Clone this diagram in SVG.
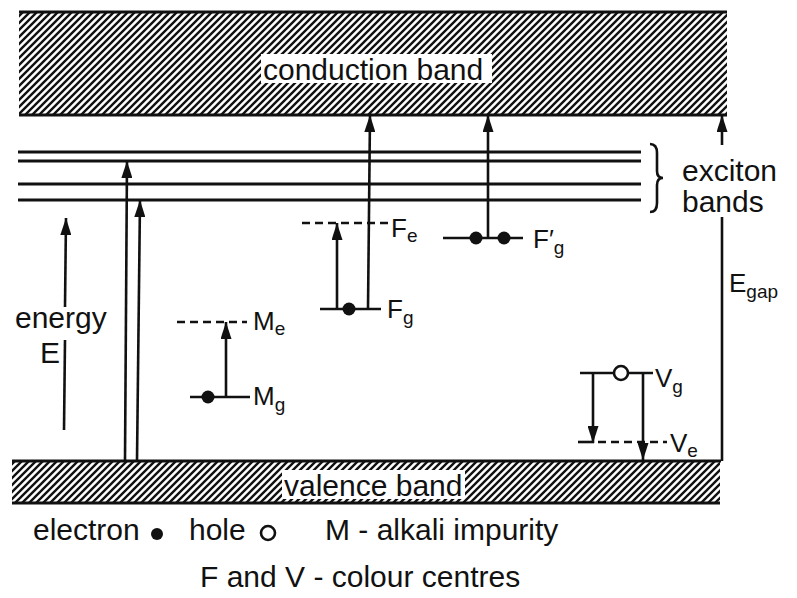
<svg xmlns="http://www.w3.org/2000/svg" width="797" height="598" viewBox="0 0 797 598">
<style>
text{font-family:"Liberation Sans",Arial,Helvetica,sans-serif;fill:#111}
.big{font-size:30px}
.lab{font-size:26px}
.sub{font-size:19px}
.ln{stroke:#111;stroke-width:3.2;fill:none}
.th{stroke:#111;stroke-width:2.6;fill:none}
.ar{stroke:#111;stroke-width:2.6;fill:none;marker-end:url(#ah)}
.dash{stroke:#111;stroke-width:2.6;fill:none;stroke-dasharray:8 5}
.dot{fill:#111}
.hole{fill:#fff;stroke:#111;stroke-width:2.6}
</style>
<defs>
<pattern id="hatch" patternUnits="userSpaceOnUse" width="7" height="7">
<path d="M-1,1 L1,-1 M0,7 L7,0 M6,8 L8,6" stroke="#111" stroke-width="2.4"/>
</pattern>
<marker id="ah" markerUnits="userSpaceOnUse" markerWidth="17" markerHeight="11" refX="17" refY="5.5" orient="auto">
<path d="M0,0 L17,5.5 L0,11 z" fill="#111"/>
</marker>
</defs>
<rect width="797" height="598" fill="#fff"/>

<g id="conduction-band">
<rect x="19" y="12" width="708" height="103" fill="url(#hatch)"/>
<line class="ln" x1="19" y1="12" x2="727" y2="12"/>
<line class="ln" x1="19" y1="115" x2="727" y2="115"/>
<rect x="261" y="54" width="231" height="29" fill="#fff"/>
<text class="big" x="263" y="80">conduction band</text>
</g>

<g id="valence-band">
<rect x="12" y="461" width="708" height="42" fill="url(#hatch)"/>
<line class="ln" x1="12" y1="461" x2="721" y2="461"/>
<line class="ln" x1="12" y1="503" x2="720" y2="503"/>
<rect x="282" y="470" width="183" height="29" fill="#fff"/>
<text class="big" x="284" y="496">valence band</text>
</g>

<g id="exciton-bands">
<line class="ln" x1="18" y1="152" x2="641" y2="152"/>
<line class="ln" x1="18" y1="161" x2="641" y2="161"/>
<line class="ln" x1="18" y1="184" x2="641" y2="184"/>
<line class="ln" x1="18" y1="200" x2="641" y2="200"/>
<path class="th" d="M650,144 Q657,144 657,153 L657,171 Q657,178 663,178 Q657,178 657,185 L657,203 Q657,212 650,212"/>
<text class="big" x="682" y="181">exciton</text>
<text class="big" x="682" y="212">bands</text>
</g>

<g id="energy-axis">
<text class="big" x="15" y="328">energy</text>
<text class="big" x="40" y="363">E</text>
</g>

<g id="M-centre">
<line class="dash" x1="177" y1="322" x2="247" y2="322"/>
<line class="th" x1="190" y1="397" x2="250" y2="397"/>
<circle class="dot" cx="208" cy="397" r="6.5"/>
<text class="lab" x="253" y="330">M<tspan class="sub" dy="5">e</tspan></text>
<text class="lab" x="253" y="405">M<tspan class="sub" dy="6">g</tspan></text>
</g>

<g id="F-centre">
<line class="dash" x1="302" y1="223" x2="389" y2="223"/>
<line class="th" x1="320" y1="309" x2="381" y2="309"/>
<circle class="dot" cx="349" cy="309" r="6.5"/>
<text class="lab" x="391" y="237">F<tspan class="sub" dy="5">e</tspan></text>
<text class="lab" x="387" y="318">F<tspan class="sub" dy="6">g</tspan></text>
</g>

<g id="F-prime-centre">
<line class="th" x1="443" y1="238" x2="523" y2="238"/>
<circle class="dot" cx="476" cy="238" r="6.5"/>
<circle class="dot" cx="504" cy="238" r="6.5"/>
<text class="lab" x="533" y="248">F′<tspan class="sub" dy="6">g</tspan></text>
</g>

<g id="V-centre">
<line class="th" x1="580" y1="373" x2="653" y2="373"/>
<circle class="hole" cx="621" cy="373" r="7"/>
<line class="th" x1="578" y1="442" x2="594" y2="442"/>
<line class="dash" x1="598" y1="442" x2="667" y2="442"/>
<text class="lab" x="655" y="387">V<tspan class="sub" dy="6">g</tspan></text>
<text class="lab" x="670" y="452">V<tspan class="sub" dy="5">e</tspan></text>
</g>

<g id="E-gap">
<text class="lab" x="729" y="292">E<tspan class="sub" dy="6">gap</tspan></text>
</g>

<g id="connectors">
<line class="ar" x1="65" y1="307" x2="66" y2="218"/>
<line class="th" x1="64" y1="430" x2="65" y2="340"/>
<line class="ar" x1="125" y1="461" x2="127" y2="161"/>
<line class="ar" x1="137" y1="461" x2="140" y2="200"/>
<line class="ar" x1="226" y1="397" x2="226" y2="322"/>
<line class="ar" x1="337" y1="309" x2="337" y2="223"/>
<line class="ar" x1="368" y1="309" x2="370" y2="115"/>
<line class="ar" x1="488" y1="238" x2="488" y2="115"/>
<line class="ar" x1="593" y1="373" x2="593" y2="443"/>
<line class="ar" x1="643" y1="373" x2="643" y2="460"/>
<line class="th" x1="722" y1="461" x2="722" y2="217"/>
<line class="ar" x1="722" y1="145" x2="722" y2="115"/>
</g>

<g id="legend">
<text class="big" x="33" y="540">electron</text>
<circle class="dot" cx="157" cy="534" r="6"/>
<text class="big" x="189" y="540">hole</text>
<circle class="hole" cx="268" cy="533" r="7"/>
<text class="big" x="325" y="540">M - alkali impurity</text>
<text class="big" x="200" y="587">F and V - colour centres</text>
</g>
</svg>
